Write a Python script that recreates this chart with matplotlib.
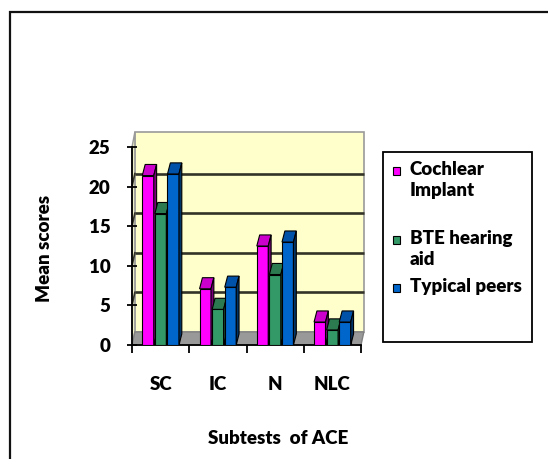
import matplotlib
matplotlib.use("Agg")
import numpy as np
import matplotlib.pyplot as plt
from matplotlib.patches import Polygon, Rectangle

plt.rcParams["font.family"] = ["Lato", "DejaVu Sans"]
plt.rcParams["font.weight"] = "heavy"

# ── Data ──────────────────────────────────────────────────────────────────────
categories = ["SC", "IC", "N", "NLC"]
series     = ["Cochlear\nImplant", "BTE hearing\naid", "Typical peers"]
cochlear   = [21.4, 7.1, 12.5, 2.9]
bte        = [16.6, 4.5, 8.9, 1.9]
typical    = [21.6, 7.3, 13.0, 2.9]
y_ticks    = [0, 5, 10, 15, 20, 25]

# ── Styling ───────────────────────────────────────────────────────────────────
FRONT = ["#FF00FF", "#339966", "#0066CC"]
TOP   = ["#CC00CC", "#2B7A50", "#0052A8"]
SIDE  = ["#7A007A", "#1B4A33", "#003366"]
OFFS  = [-0.22, 0.0, 0.22]
BAR_W = 0.2
BDX, BDY = 0.05, 1.4      # bar depth (data units)
WDX, WDY = 0.05, 1.65     # wall depth
Y_TOP = 26.9
FS = 13.5

fig = plt.figure(figsize=(5.48, 4.59), dpi=100)
ax = fig.add_axes([132 / 548, 1 - 345 / 459, 229 / 548, 213 / 459])
ax.set_xlim(-0.5, 3.5)
ax.set_ylim(0, Y_TOP)
ax.patch.set_visible(False)

# outer chart border
fig.patches.append(Rectangle((10 / 548, -0.1), 1.0, 1 - 12 / 459 + 0.1,
                             transform=fig.transFigure, fill=False,
                             edgecolor="#111111", lw=1.6))

x = np.arange(len(categories))
x0, x1 = -0.5, 3.5

# back wall, side wall, floor
ax.add_patch(Polygon([(x0 + WDX, WDY), (x1 + WDX, WDY), (x1 + WDX, Y_TOP),
                      (x0 + WDX, Y_TOP)], closed=True, facecolor="#FFFFCC",
                     edgecolor="#9A9A9A", lw=1.2, zorder=0, clip_on=False))
ax.add_patch(Polygon([(x0, 0), (x0 + WDX, WDY), (x0 + WDX, Y_TOP), (x0, 25)],
                     closed=True, facecolor="#EFEFC8", edgecolor="#9A9A9A",
                     lw=1.0, zorder=0, clip_on=False))
ax.add_patch(Polygon([(x0, 0), (x1, 0), (x1 + WDX, WDY), (x0 + WDX, WDY)],
                     closed=True, facecolor="#999999", edgecolor="#808080",
                     lw=1.0, zorder=1, clip_on=False))
for v in y_ticks[1:-1]:
    ax.plot([x0 + WDX, x1 + WDX], [v + WDY, v + WDY], color="#333328",
            lw=1.9, zorder=1, solid_capstyle="butt", clip_on=False)
    ax.plot([x0, x0 + WDX], [v, v + WDY], color="#333328", lw=1.2, zorder=1,
            clip_on=False)

# bars with top and side faces
for i, vals in enumerate([cochlear, bte, typical]):
    xs = x + OFFS[i]
    bars = ax.bar(xs, vals, BAR_W, color=FRONT[i], edgecolor="black",
                  lw=0.8, zorder=3 + i)
    for b in bars:
        bx0, bx1, h = b.get_x(), b.get_x() + b.get_width(), b.get_height()
        ax.add_patch(Polygon([(bx0, h), (bx1, h), (bx1 + BDX, h + BDY),
                              (bx0 + BDX, h + BDY)], closed=True,
                             facecolor=TOP[i], edgecolor="black", lw=0.8,
                             zorder=3 + i))
        ax.add_patch(Polygon([(bx1, 0), (bx1, h), (bx1 + BDX, h + BDY),
                              (bx1 + BDX, BDY)], closed=True,
                             facecolor=SIDE[i], edgecolor="black", lw=0.8,
                             zorder=3 + i))

# axes
for s in ["top", "right"]:
    ax.spines[s].set_visible(False)
ax.spines["left"].set_bounds(0, 25)
ax.spines["bottom"].set_bounds(x0, x1)
ax.spines["left"].set_linewidth(1.3)
ax.spines["bottom"].set_linewidth(1.3)
ax.set_yticks(y_ticks)
ax.tick_params(axis="y", direction="inout", length=7, width=1.3, pad=12,
               labelsize=FS)
ax.set_xticks(x)
ax.set_xticklabels(categories)
ax.set_xticks(np.arange(x0, x1 + 0.01, 1.0), minor=True)
ax.tick_params(axis="x", which="major", length=0, pad=22, labelsize=FS)
ax.tick_params(axis="x", which="minor", direction="out", length=6, width=1.3)

fig.text(45 / 548, 1 - 248 / 459, "Mean scores", rotation=90, ha="center",
         va="center", fontsize=FS)
fig.text(278 / 548, 1 - 438 / 459, "Subtests  of ACE", ha="center",
         va="center", fontsize=FS)

# legend box
fig.patches.append(Rectangle((383 / 548, 1 - 342 / 459), 149 / 548, 190 / 459,
                             transform=fig.transFigure, facecolor="white",
                             edgecolor="black", lw=1.3))
entry_y = [171, 240, 288]
for i, name in enumerate(series):
    fig.patches.append(Rectangle((393 / 548, 1 - (entry_y[i] + 4) / 459),
                                 7 / 548, 8 / 459, transform=fig.transFigure,
                                 facecolor=FRONT[i], edgecolor="black", lw=0.8))
    fig.text(410 / 548, 1 - (entry_y[i] - 10) / 459, name, ha="left",
             va="top", fontsize=FS, linespacing=1.3)

fig.savefig("out.png", dpi=100)
